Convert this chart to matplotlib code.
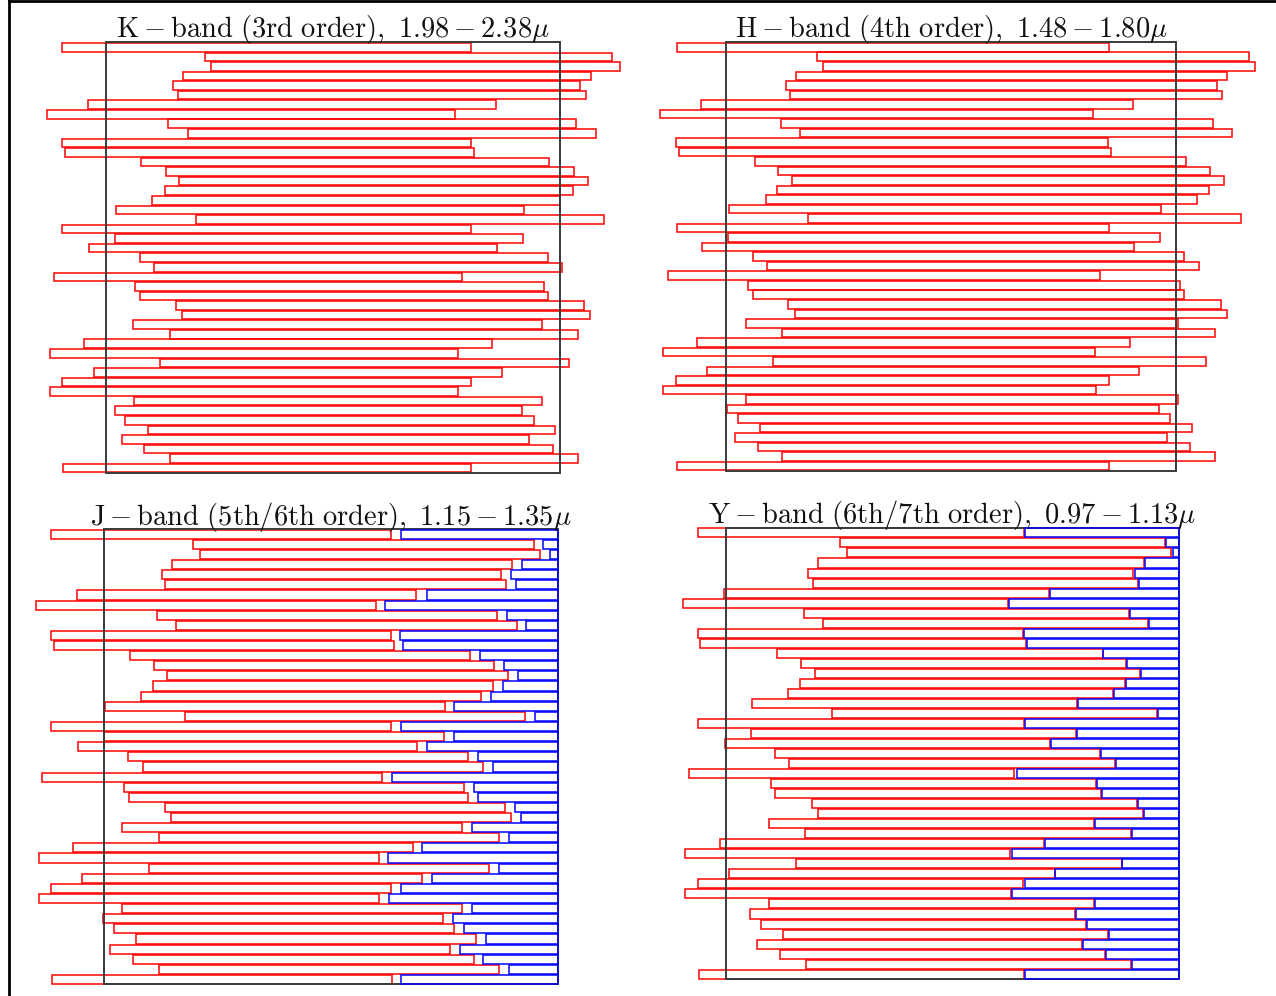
import matplotlib
matplotlib.use("Agg")
import matplotlib.pyplot as plt
from matplotlib.patches import Rectangle
from matplotlib.lines import Line2D

plt.rcParams['mathtext.fontset'] = 'cm'

# ---------------- data (slit spectra positions, in detector units of each panel) -------------
# K-band (detector spans 261..1372)
K_det = (261, 1372)
K_start = [153,502,517,448,423,435,216,116,412,461,152,160,346,406,439,404,373,285,481,153,
           281,218,342,377,133,332,342,432,447,327,417,206,122,393,230,153,122,328,281,307,
           362,298,354,417,155]
K_end = [1153,1500,1518,1447,1422,1435,1216,1115,1412,1460,1153,1161,1346,1406,1440,1403,1373,
         1284,1481,1153,1281,1218,1343,1377,1131,1332,1343,1432,1446,1327,1417,1206,1121,1393,
         1230,1153,1122,1327,1280,1308,1360,1297,1355,1417,1155]

# H-band (detector spans 213..1321)
H_det = (213, 1321)
H_start = [90,436,452,384,359,369,151,50,347,394,88,95,283,340,374,338,310,220,415,90,
           216,153,278,312,68,267,278,366,381,262,351,141,57,327,164,88,57,261,214,242,
           296,233,290,351,90]
H_end = [1155,1500,1517,1448,1423,1434,1216,1117,1412,1460,1153,1160,1347,1406,1440,1402,1373,
         1285,1481,1155,1282,1218,1342,1377,1133,1332,1342,1432,1446,1327,1418,1207,1122,1394,
         1231,1155,1124,1326,1280,1307,1360,1298,1355,1418,1157]

# J-band (detector spans 255..1366); red = one order, blue = the other order
J_det = (255, 1366)
J_start = [125,474,490,421,396,405,189,88,384,432,124,132,318,377,410,374,346,256,452,126,
           255,190,314,350,104,304,315,405,419,298,389,178,95,366,201,125,96,300,253,279,
           333,269,327,390,127]
J_end = [958,1307,1323,1255,1228,1240,1020,920,1218,1266,957,965,1152,1210,1245,1208,1178,
         1090,1285,958,1088,1022,1147,1183,936,1137,1147,1237,1252,1133,1222,1012,928,1199,
         1035,959,928,1133,1086,1112,1166,1103,1160,1222,961]
J_blue = [983,1331,1347,1278,1252,1265,1045,944,1241,1289,981,988,1175,1235,1269,1233,1202,
          1113,1311,983,1112,1046,1171,1207,960,1162,1172,1261,1276,1157,1246,1035,951,1223,
          1059,982,952,1157,1109,1136,1190,1127,1183,1246,983]

# Y-band (detector spans 212..1329)
Y_det = (212, 1329)
Y_start = [144,494,509,439,414,426,206,105,404,451,144,149,338,396,431,395,364,275,473,144,
           273,209,333,368,122,323,334,423,438,318,407,196,111,385,219,143,112,318,271,298,
           352,288,346,410,145]
Y_end = [946,1294,1310,1242,1216,1227,1007,907,1205,1252,945,951,1140,1198,1233,1196,1166,
         1077,1275,946,1075,1010,1135,1170,922,1124,1136,1225,1240,1119,1210,997,913,1187,
         1022,945,914,1119,1073,1099,1154,1090,1147,1210,947]
Y_blue = [948,1297,1313,1244,1219,1230,1010,909,1208,1255,947,953,1142,1200,1235,1198,1169,
          1079,1277,948,1077,1012,1137,1173,928,1127,1138,1228,1243,1122,1212,999,916,1189,
          1024,948,916,1122,1075,1101,1156,1092,1149,1212,950]

titles = [r'$\mathrm{K}-\mathrm{band\ (3rd\ order),\ 1.98}-\mathrm{2.38}\mu$',
          r'$\mathrm{H}-\mathrm{band\ (4th\ order),\ 1.48}-\mathrm{1.80}\mu$',
          r'$\mathrm{J}-\mathrm{band\ (5th/6th\ order),\ 1.15}-\mathrm{1.35}\mu$',
          r'$\mathrm{Y}-\mathrm{band\ (6th/7th\ order),\ 0.97}-\mathrm{1.13}\mu$']

# ---------------- layout ----------------
W, H = 1276, 996
fig = plt.figure(figsize=(W / 100, H / 100), dpi=100)
fig.patch.set_facecolor('white')

# detector box pixel locations: (left, right, top, bottom), title baseline
layout = [
    (106.5, 560.0, 42.3, 472.7, 37.5),
    (726.4, 1175.9, 42.3, 470.7, 37.5),
    (104.1, 557.6, 529.0, 984.3, 524.5),
    (726.0, 1179.2, 527.7, 979.0, 523.5),
]

panels = [
    (K_det, K_start, K_end, None),
    (H_det, H_start, H_end, None),
    (J_det, J_start, J_end, J_blue),
    (Y_det, Y_start, Y_end, Y_blue),
]

RED = '#ff0000'
BLUE = '#0000ff'
BOX = '#3a3a3a'
nrow = 45

for (det, starts, ends, blues), (L, R, T, B, tb), title in zip(panels, layout, titles):
    lo, hi = det
    s = (R - L) / (hi - lo)  # px per unit
    xlo, xhi = lo - 300, hi + 300
    ax_left = L - (lo - xlo) * s
    ax_width = (xhi - xlo) * s
    ax = fig.add_axes([ax_left / W, (H - B) / H, ax_width / W, (B - T) / H])
    ax.set_xlim(xlo, xhi)
    ax.set_ylim(nrow, 0)
    ax.axis('off')

    # detector box
    ax.add_patch(Rectangle((lo, 0), hi - lo, nrow, fill=False, ec=BOX, lw=1.4,
                           zorder=3, clip_on=False))
    for i, (a, b) in enumerate(zip(starts, ends)):
        ax.add_patch(Rectangle((a, i + 0.07), b - a, 0.9, fill=False, ec=RED, lw=1.15,
                               alpha=0.95, zorder=2, clip_on=False))
        if blues is not None:
            ax.add_patch(Rectangle((blues[i], i + 0.07), hi - blues[i], 0.9, fill=False,
                                   ec=BLUE, lw=1.15, alpha=0.95, zorder=4, clip_on=False))

    fig.text((L + R) / 2 / W, (H - tb) / H, title, ha='center', va='baseline',
             fontsize=20.5, color='#111111')

# page frame (left and top edges)
fig.add_artist(Line2D([8.5 / W, 8.5 / W], [0, 1], color='black', lw=2.0,
                      transform=fig.transFigure))
fig.add_artist(Line2D([8.5 / W, 1], [1 - 1.5 / H, 1 - 1.5 / H], color='black', lw=2.0,
                      transform=fig.transFigure))

fig.savefig('out.png', dpi=100, facecolor='white')
